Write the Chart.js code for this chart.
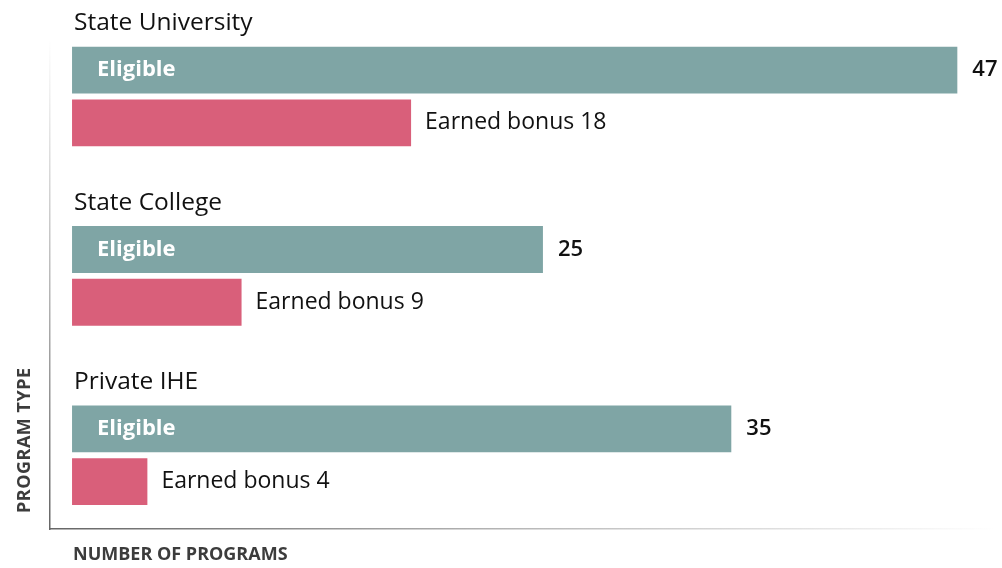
<!DOCTYPE html>
<html>
<head>
<meta charset="utf-8">
<script src="https://cdn.jsdelivr.net/npm/chart.js@4/dist/chart.umd.min.js"></script>
<style>
  html, body { margin: 0; padding: 0; background: #ffffff; }
  #wrap { width: 1002px; height: 568px; position: relative; }
</style>
</head>
<body>
<div id="wrap"><canvas id="c"></canvas></div>
<script>
// ---- data ----
const categories = ['State University', 'State College', 'Private IHE'];
const seriesNames = ['Eligible', 'Earned bonus'];
const eligible = [47, 25, 35];
const earned = [18, 9, 4];
const axisTitleX = 'NUMBER OF PROGRAMS';
const axisTitleY = 'PROGRAM TYPE';

const FONT = '"Open Sans", Lato, sans-serif';

function axisGradient(c, vertical) {
  const s = c.scale;
  const g = vertical
    ? c.chart.ctx.createLinearGradient(0, s.bottom, 0, s.top)
    : c.chart.ctx.createLinearGradient(s.left, 0, s.right, 0);
  g.addColorStop(0, '#666666');
  g.addColorStop(0.5, '#b8b8b8');
  g.addColorStop(1, '#ffffff');
  return g;
}

const barLabels = {
  id: 'barLabels',
  afterDatasetsDraw(chart) {
    const ctx = chart.ctx;
    ctx.save();
    chart.data.datasets.forEach((ds, di) => {
      const meta = chart.getDatasetMeta(di);
      meta.data.forEach((bar, i) => {
        const p = bar.getProps(['x', 'y', 'base'], true);
        const v = ds.data[i].x;
        ctx.textBaseline = 'middle';
        ctx.textAlign = 'left';
        if (di === 0) {
          ctx.fillStyle = '#ffffff';
          ctx.font = 'bold 22px ' + FONT;
          ctx.fillText(seriesNames[0], p.base + 25, p.y);
          ctx.fillStyle = '#111111';
          ctx.font = '600 22px ' + FONT;
          ctx.fillText(String(v), p.x + 15, p.y);
        } else {
          ctx.fillStyle = '#111111';
          ctx.font = '23px ' + FONT;
          ctx.fillText(seriesNames[1] + ' ' + v, p.x + 14, p.y);
        }
      });
    });
    ctx.restore();
  }
};

const axisTitles = {
  id: 'axisTitles',
  afterDraw(chart) {
    const ctx = chart.ctx;
    const a = chart.chartArea;
    ctx.save();
    ctx.fillStyle = '#3c3c3c';
    ctx.font = 'bold 18px ' + FONT;
    ctx.textBaseline = 'middle';
    ctx.textAlign = 'left';
    ctx.fillText(axisTitleX, a.left + 23, a.bottom + 26);
    ctx.translate(25, a.bottom - 16);
    ctx.rotate(-Math.PI / 2);
    ctx.letterSpacing = '0.5px';
    ctx.fillText(axisTitleY, 0, 0);
    ctx.restore();
  }
};

new Chart(document.getElementById('c'), {
  type: 'bar',
  data: {
    datasets: [
      {
        label: seriesNames[0],
        data: eligible.map((v, i) => ({ x: v, y: i })),
        backgroundColor: '#7FA5A5'
      },
      {
        label: seriesNames[1],
        data: earned.map((v, i) => ({ x: v, y: i })),
        backgroundColor: '#D95F7A'
      }
    ]
  },
  options: {
    indexAxis: 'y',
    responsive: true,
    maintainAspectRatio: false,
    animation: false,
    categoryPercentage: 0.5889,
    barPercentage: 0.8868,
    layout: { padding: { left: 2, right: 7, top: 20, bottom: 39 } },
    plugins: { legend: { display: false }, tooltip: { enabled: false } },
    scales: {
      x: {
        type: 'linear',
        min: -1.17,
        max: 49,
        ticks: { display: false },
        grid: { display: false, drawTicks: false },
        border: { display: true, width: 1.5, color: c => axisGradient(c, false) }
      },
      y: {
        type: 'linear',
        reverse: true,
        offset: false,
        min: -0.3222,
        max: 2.4111,
        afterBuildTicks: s => { s.ticks = categories.map((_, i) => ({ value: i })); },
        ticks: {
          mirror: true,
          padding: 24,
          labelOffset: -73,
          color: '#111111',
          font: { family: FONT, size: 24.5 },
          callback: v => categories[v]
        },
        grid: { display: false, drawTicks: false, offset: false },
        border: { display: true, width: 1.5, color: c => axisGradient(c, true) }
      }
    }
  },
  plugins: [barLabels, axisTitles]
});
</script>
</body>
</html>
